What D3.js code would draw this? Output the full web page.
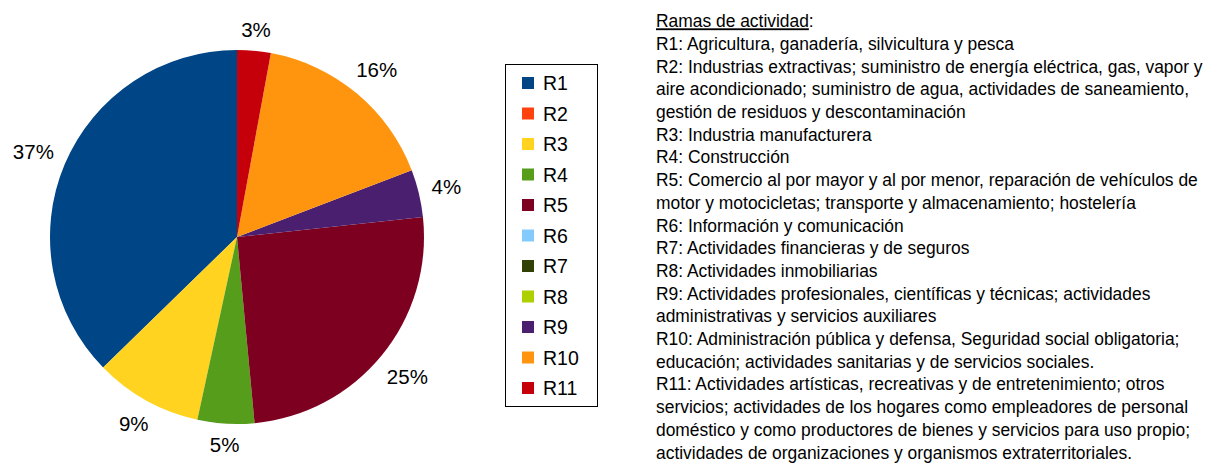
<!doctype html>
<html lang="es">
<head>
<meta charset="utf-8">
<title>Ramas de actividad</title>
<script src="https://d3js.org/d3.v7.min.js"></script>
<style>
  body { margin: 0; background: #fff; }
  svg text { fill: #000; }
  .lbl { font-family: "Liberation Sans", Arial, sans-serif; font-size: 20.5px; }
  .ley { font-family: "Liberation Sans", Arial, sans-serif; font-size: 19.5px; }
  .desc { font-family: "Liberation Sans", Arial, sans-serif; font-size: 18.5px; }
</style>
</head>
<body>
<svg width="1205" height="465"></svg>
<script>

// data (percent share per branch)
var ramas = ["R1","R2","R3","R4","R5","R6","R7","R8","R9","R10","R11"];
var valores = [37.3, 0, 9.3, 4.9, 25.2, 0, 0, 0, 4.1, 16.3, 2.9];
var colores = ["#004586","#ff420e","#ffd320","#579d1c","#7e0021","#83caff","#314004","#aecf00","#4b1f6f","#ff950e","#c5000b"];

var tituloTexto = "Ramas de actividad";
var lineasTexto = [
  "R1: Agricultura, ganadería, silvicultura y pesca",
  "R2: Industrias extractivas; suministro de energía eléctrica, gas, vapor y",
  "aire acondicionado; suministro de agua, actividades de saneamiento,",
  "gestión de residuos y descontaminación",
  "R3: Industria manufacturera",
  "R4: Construcción",
  "R5: Comercio al por mayor y al por menor, reparación de vehículos de",
  "motor y motocicletas; transporte y almacenamiento; hostelería",
  "R6: Información y comunicación",
  "R7: Actividades financieras y de seguros",
  "R8: Actividades inmobiliarias",
  "R9: Actividades profesionales, científicas y técnicas; actividades",
  "administrativas y servicios auxiliares",
  "R10: Administración pública y defensa, Seguridad social obligatoria;",
  "educación; actividades sanitarias y de servicios sociales.",
  "R11: Actividades artísticas, recreativas y de entretenimiento; otros",
  "servicios; actividades de los hogares como empleadores de personal",
  "doméstico y como productores de bienes y servicios para uso propio;",
  "actividades de organizaciones y organismos extraterritoriales."
];

var svg = d3.select("svg");
var cx = 237, cy = 237, radius = 187;

var datos = ramas.map(function(r, i) { return {rama: r, valor: valores[i], color: colores[i]}; });

var pie = d3.pie().sort(null).value(function(d) { return d.valor; })
  .startAngle(0).endAngle(-2 * Math.PI);
var arc = d3.arc().innerRadius(0).outerRadius(radius);

var g = svg.append("g").attr("transform", "translate(" + cx + "," + cy + ")");
var arcos = pie(datos).filter(function(d) { return d.data.valor > 0; });

g.selectAll("path").data(arcos).enter().append("path")
  .attr("d", arc)
  .attr("fill", function(d) { return d.data.color; });

// percentage labels, pushed outside the rim
var total = d3.sum(valores);
g.selectAll("text.lbl").data(arcos).enter().append("text")
  .attr("class", "lbl")
  .attr("text-anchor", "middle")
  .attr("dominant-baseline", "central")
  .text(function(d) { return Math.round(d.data.valor / total * 100) + "%"; })
  .each(function(d) {
    var a = (d.startAngle + d.endAngle) / 2;
    var dx = Math.sin(a), dy = -Math.cos(a);
    var bb = this.getBBox();
    var extra = bb.width / 2 * Math.abs(dx) + 8 * Math.abs(dy);
    var r = radius + 12 + extra;
    d3.select(this).attr("x", dx * r).attr("y", dy * r);
  });

// legend
var lx = 505, ly = 64, lw = 92, lh = 342;
svg.append("rect").attr("x", lx + 0.5).attr("y", ly + 0.5).attr("width", lw).attr("height", lh)
  .attr("fill", "none").attr("stroke", "#000").attr("stroke-width", 1);

var paso = 30.5;
var ley = svg.append("g");
ramas.forEach(function(r, i) {
  var y = 83 + i * paso;
  ley.append("rect").attr("x", 522).attr("y", y - 6).attr("width", 12).attr("height", 12)
    .attr("fill", colores[i]);
  ley.append("text").attr("class", "ley").attr("x", 543).attr("y", y + 7).text(r);
});

// description block: narrow look by squeezing the group horizontally
var tx = 656, ty0 = 27.3, dyLine = 22.7, anchoObjetivo = 547;
var bloque = svg.append("g");
var titulo = bloque.append("text").attr("class", "desc").attr("x", 0).attr("y", ty0);
titulo.append("tspan").attr("text-decoration", "underline").text(tituloTexto);
titulo.append("tspan").text(":");

bloque.selectAll("text.linea").data(lineasTexto).enter().append("text")
  .attr("class", "desc linea")
  .attr("x", 0)
  .attr("y", function(d, i) { return ty0 + (i + 1) * dyLine; })
  .text(function(d) { return d; });

var anchoR2 = bloque.selectAll("text.linea").nodes()[1].getComputedTextLength();
var sx = anchoObjetivo / anchoR2;
bloque.attr("transform", "translate(" + tx + ",0) scale(" + sx + ",1)");

</script>
</body>
</html>
